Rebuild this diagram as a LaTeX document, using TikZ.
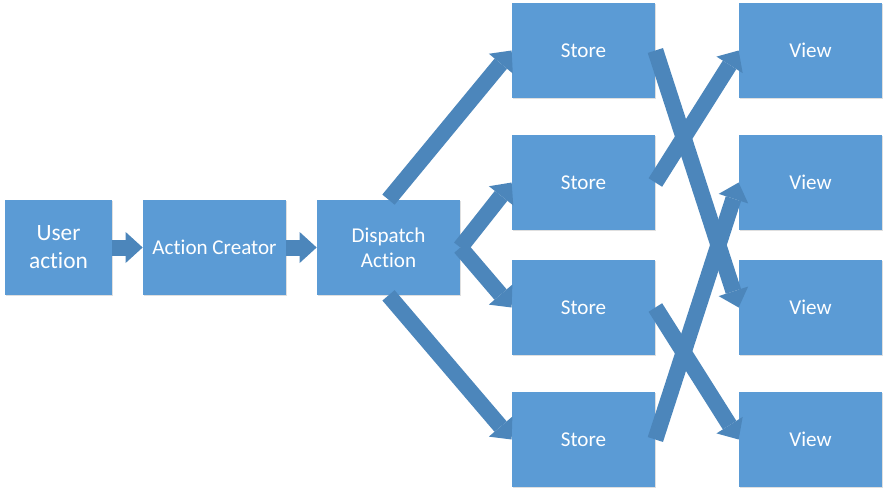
\documentclass[tikz,border=0pt]{standalone}
\usepackage{fontspec}
\setmainfont{Carlito}[Ligatures=NoCommon]
\usepackage{tikz}
\usetikzlibrary{%
  positioning
 ,arrows.meta
 ,shadows
}
\definecolor{boxblue}{RGB}{91,155,213}
\definecolor{flowblue}{RGB}{76,134,187}
\tikzstyle{flux}=[node distance=2cm,on grid]
\tikzstyle{blk}=[rectangle,fill=boxblue,text=white,minimum width=2.86cm,minimum height=1.9cm,
  align=center,inner sep=2pt,font=\fontsize{12}{14.5}\selectfont,
  drop shadow={opacity=0.25,shadow xshift=0.6pt,shadow yshift=-0.6pt}]
\tikzstyle{fat}=[color=flowblue,line width=0.32cm,line cap=butt,
  -{Triangle[width=0.62cm,length=0.34cm,line width=0pt,fill=flowblue]}]

\begin{document}
\begin{tikzpicture}[flux]
      \useasboundingbox (-1.17,-4.95) rectangle (16.59,4.95);
      \node[blk,minimum width=2.14cm,font=\fontsize{13.3}{16}\selectfont] (user) at (0,0) {User\\action};
      \node[blk] (creator) [right=3.12cm of user] {Action Creator};
      \node[blk] (dispatch) [right=3.48cm of creator] {Dispatch\\Action};
      % stores
      \node[blk] (store_2) [above right=1.3cm and 3.9cm of dispatch] {Store};
      \node[blk] (store_1) [above=2.64cm of store_2] {Store};
      \node[blk] (store_3) [below=2.5cm of store_2] {Store};
      \node[blk] (store_4) [below=2.64cm of store_3] {Store};
      % views
      \node[blk] (view_1) [right=4.54cm of store_1] {View};
      \node[blk] (view_2) [right=4.54cm of store_2] {View};
      \node[blk] (view_3) [right=4.54cm of store_3] {View};
      \node[blk] (view_4) [right=4.54cm of store_4] {View};
      \path[fat]
        (user) edge (creator)
        (creator) edge (dispatch)
        (dispatch.north) edge (store_1.west)
        (dispatch.east) edge (store_2.west)
        (dispatch.east) edge (store_3.west)
        (dispatch.south) edge (store_4.west)
        (store_1.east) edge (view_3.west)
        (store_2.east) edge (view_1.west)
        (store_3.east) edge (view_4.west)
        (store_4.east) edge (view_2.west);
    \end{tikzpicture}
\end{document}
